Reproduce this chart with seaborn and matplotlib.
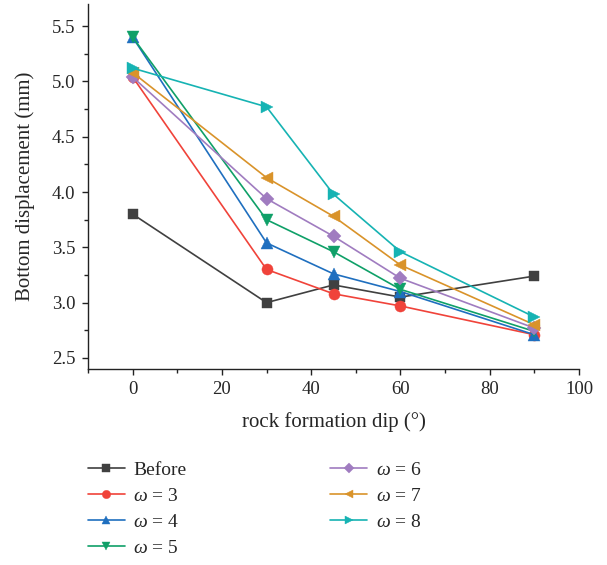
import matplotlib
matplotlib.use("Agg")
import matplotlib.pyplot as plt
from matplotlib.ticker import MultipleLocator
import seaborn as sns
import pandas as pd

dip = [0, 30, 45, 60, 90]
before = [3.80, 3.00, 3.16, 3.05, 3.24]
w3 = [5.04, 3.30, 3.08, 2.97, 2.71]
w4 = [5.40, 3.54, 3.26, 3.10, 2.71]
w5 = [5.40, 3.75, 3.46, 3.12, 2.74]
w6 = [5.04, 3.94, 3.60, 3.22, 2.77]
w7 = [5.08, 4.13, 3.78, 3.34, 2.80]
w8 = [5.12, 4.77, 3.98, 3.46, 2.87]

labels = ["Before", r"$\omega$ = 3", r"$\omega$ = 4", r"$\omega$ = 5",
          r"$\omega$ = 6", r"$\omega$ = 7", r"$\omega$ = 8"]
series = [before, w3, w4, w5, w6, w7, w8]
colors = ["#404040", "#f0433a", "#1f6fbf", "#0fa068", "#a07cc0", "#d9932a", "#16b3b3"]
markers = ["s", "o", "^", "v", "D", "<", ">"]
msizes = [7, 8, 8, 8, 7, 8, 8]

sns.set_style("ticks")
plt.rcParams["font.family"] = ["Liberation Serif", "DejaVu Serif"]
plt.rcParams["mathtext.fontset"] = "custom"
plt.rcParams["mathtext.it"] = "Liberation Serif:italic"
plt.rcParams["mathtext.rm"] = "Liberation Serif"

fig = plt.figure(figsize=(6.07, 5.65), dpi=100)
ax = fig.add_axes([88/607, 1-369/565, (579-88)/607, (369-4)/565])

for lab, vals, c, m, ms in zip(labels, series, colors, markers, msizes):
    df = pd.DataFrame({"dip": dip, "disp": vals})
    sns.lineplot(data=df, x="dip", y="disp", ax=ax, color=c, marker=m,
                 markersize=ms, markeredgewidth=0.3, markeredgecolor=c,
                 linewidth=1.2, label=lab, legend=False)

ax.set_xlim(-10, 100)
ax.set_ylim(2.4, 5.7)
ax.xaxis.set_major_locator(MultipleLocator(20))
ax.xaxis.set_minor_locator(MultipleLocator(10))
ax.yaxis.set_major_locator(MultipleLocator(0.5))
ax.yaxis.set_minor_locator(MultipleLocator(0.25))
ax.set_yticks([2.5, 3.0, 3.5, 4.0, 4.5, 5.0, 5.5])
ax.set_yticklabels(["2.5", "3.0", "3.5", "4.0", "4.5", "5.0", "5.5"])
ax.tick_params(which="major", length=4, width=1, labelsize=13.5, direction="out",
               color="#222222", pad=5)
ax.tick_params(which="minor", length=3, width=1, direction="out", color="#222222")
for s in ["top", "right"]:
    ax.spines[s].set_visible(False)
for s in ["left", "bottom"]:
    ax.spines[s].set_linewidth(1.0)
    ax.spines[s].set_color("#222222")
ax.set_xlabel("rock formation dip (°)", fontsize=15, labelpad=10)
ax.set_ylabel("Bottom displacement (mm)", fontsize=15, labelpad=12)

handles, labs = ax.get_legend_handles_labels()
leg = fig.legend(handles, labs,
                 loc="upper left", bbox_to_anchor=(76/607, 1-450/565),
                 ncol=2, frameon=False, fontsize=14, handlelength=1.9,
                 markerscale=0.75, borderaxespad=0.2,
                 columnspacing=7.4, labelspacing=0.42, handletextpad=0.45)

fig.savefig("out.png", dpi=100)
